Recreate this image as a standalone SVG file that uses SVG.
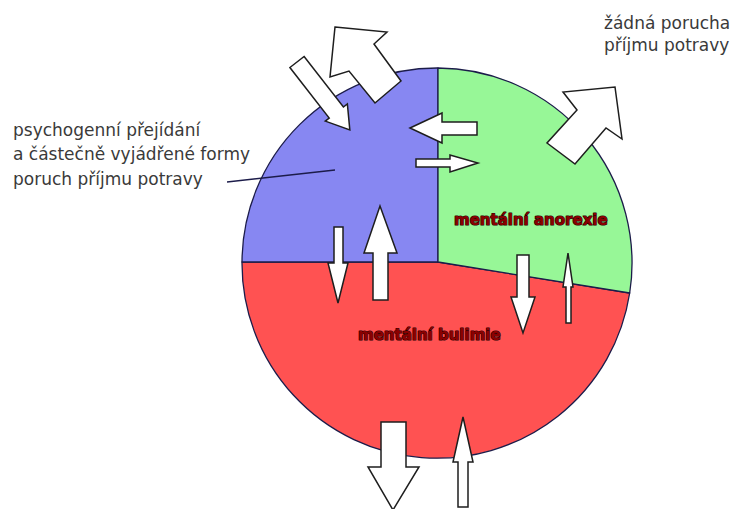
<svg xmlns="http://www.w3.org/2000/svg" width="736" height="509" viewBox="0 0 736 509">
<style>
.txt{font-family:"DejaVu Sans","Liberation Sans",sans-serif;font-size:17px;fill:#3a3a3a}
.lbl{font-family:"DejaVu Sans","Liberation Sans",sans-serif;font-size:15px;font-weight:bold;fill:#8b0000;stroke:#2a0000;stroke-width:1.2;paint-order:stroke;stroke-linejoin:round}
.sector{stroke:#1c1c4a;stroke-width:1.3;stroke-linejoin:round}
.arrow{fill:#ffffff;stroke:#1e1e1e;stroke-width:1.5;stroke-linejoin:miter}
.leader{stroke:#1c1c4a;stroke-width:1.3;fill:none}
</style>
<rect width="736" height="509" fill="#ffffff"/>
<g id="bulimie">
<path class="sector" fill="#ff5252" d="M242,262 L438,262 L629.7,293 A195,195 0 0,1 242,262 Z"/>
<text class="lbl" x="358" y="340">mentální bulimie</text>
</g>
<g id="prejidani">
<path class="sector" fill="#8787f2" d="M438,262 L242,262 A195,195 0 0,1 438,68 Z"/>
<text class="txt" x="13" y="136">psychogenní přejídání</text>
<text class="txt" x="13" y="160">a částečně vyjádřené formy</text>
<text class="txt" x="13" y="185">poruch příjmu potravy</text>
<line class="leader" x1="227" y1="182" x2="335" y2="170"/>
</g>
<g id="anorexie">
<path class="sector" fill="#97f797" d="M438,262 L438,68 A195,195 0 0,1 629.7,293 Z"/>
<text class="lbl" x="454" y="225">mentální anorexie</text>
</g>
<g id="zadna-porucha">
<text class="txt" x="604" y="29">žádná porucha</text>
<text class="txt" x="604" y="51">příjmu potravy</text>
</g>
<g id="connectors">
<polygon class="arrow" points="335,27 387,32 374,44 401,81 375,103 349,71 330,77"/>
<polygon class="arrow" transform="translate(297,62) rotate(52.1)" points="0,-9 64,-9 64,-14 86,0 64,14 64,9 0,9"/>
<polygon class="arrow" points="410,128 442,113 442,122 477,122 477,135 442,135 442,143"/>
<polygon class="arrow" points="416,159 450,159 450,155 478,163 450,172 450,167 416,167"/>
<polygon class="arrow" points="615,87 622,139 606,128 575,164 547,143 577,110 563,92"/>
<polygon class="arrow" points="334,227 343,227 343,263 348,263 338,303 328,263 334,263"/>
<polygon class="arrow" points="380,206 397,253 388,253 388,300 373,300 373,253 364,253"/>
<polygon class="arrow" points="517,255 529,255 529,297 535,297 523,333 511,297 517,297"/>
<polygon class="arrow" points="568,253 573,287 571,287 571,323 566,323 566,287 563,287"/>
<polygon class="arrow" points="381,422 406,422 406,467 419,467 393,510 368,467 381,467"/>
<polygon class="arrow" points="463,417 473,462 468,462 468,507 458,507 458,462 453,462"/>
</g>
</svg>
